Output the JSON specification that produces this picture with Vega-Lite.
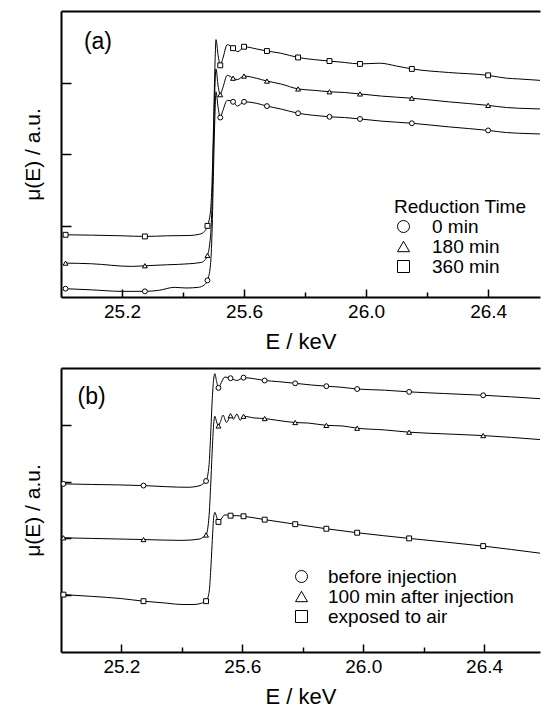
{
  "$schema": "https://vega.github.io/schema/vega-lite/v6.json",
  "padding": {"top": 11, "left": 22, "right": 0, "bottom": 0},
  "spacing": 16,
  "resolve": {"scale": {"shape": "independent"}, "legend": {"shape": "independent"}},
  "config": {
    "view": {"stroke": null},
    "font": "Liberation Sans",
    "axis": {"domainColor": "black", "domainWidth": 2, "tickColor": "black", "tickWidth": 1.5, "labelColor": "black", "titleColor": "black", "titleFontWeight": "normal", "grid": false, "labelFont": "Liberation Sans", "titleFont": "Liberation Sans"},
    "legend": {"labelFont": "Liberation Sans", "titleFont": "Liberation Sans", "labelColor": "black", "titleColor": "black", "labelLimit": 400}
  },
  "datasets": {
    "a_curve": [
      {"E": 25.015, "mu": 0.870, "series": "360 min"}, {"E": 25.10, "mu": 0.865, "series": "360 min"}, {"E": 25.20, "mu": 0.856, "series": "360 min"}, {"E": 25.275, "mu": 0.847, "series": "360 min"}, {"E": 25.35, "mu": 0.856, "series": "360 min"}, {"E": 25.42, "mu": 0.860, "series": "360 min"}, {"E": 25.455, "mu": 0.879, "series": "360 min"}, {"E": 25.47, "mu": 0.916, "series": "360 min"}, {"E": 25.48, "mu": 0.995, "series": "360 min"}, {"E": 25.49, "mu": 1.2, "series": "360 min"}, {"E": 25.495, "mu": 1.6, "series": "360 min"}, {"E": 25.50, "mu": 2.4, "series": "360 min"}, {"E": 25.505, "mu": 3.3, "series": "360 min"}, {"E": 25.508, "mu": 3.60, "series": "360 min"}, {"E": 25.515, "mu": 3.38, "series": "360 min"}, {"E": 25.522, "mu": 3.24, "series": "360 min"}, {"E": 25.53, "mu": 3.33, "series": "360 min"}, {"E": 25.545, "mu": 3.53, "series": "360 min"}, {"E": 25.564, "mu": 3.48, "series": "360 min"}, {"E": 25.58, "mu": 3.43, "series": "360 min"}, {"E": 25.60, "mu": 3.50, "series": "360 min"}, {"E": 25.64, "mu": 3.47, "series": "360 min"}, {"E": 25.675, "mu": 3.44, "series": "360 min"}, {"E": 25.72, "mu": 3.41, "series": "360 min"}, {"E": 25.777, "mu": 3.35, "series": "360 min"}, {"E": 25.83, "mu": 3.32, "series": "360 min"}, {"E": 25.88, "mu": 3.30, "series": "360 min"}, {"E": 25.93, "mu": 3.28, "series": "360 min"}, {"E": 25.98, "mu": 3.26, "series": "360 min"}, {"E": 26.045, "mu": 3.27, "series": "360 min"}, {"E": 26.10, "mu": 3.23, "series": "360 min"}, {"E": 26.15, "mu": 3.19, "series": "360 min"}, {"E": 26.27, "mu": 3.14, "series": "360 min"}, {"E": 26.40, "mu": 3.10, "series": "360 min"}, {"E": 26.46, "mu": 3.06, "series": "360 min"}, {"E": 26.50, "mu": 3.05, "series": "360 min"}, {"E": 26.57, "mu": 3.03, "series": "360 min"},
      {"E": 25.015, "mu": 0.474, "series": "180 min"}, {"E": 25.10, "mu": 0.465, "series": "180 min"}, {"E": 25.23, "mu": 0.428, "series": "180 min"}, {"E": 25.275, "mu": 0.437, "series": "180 min"}, {"E": 25.35, "mu": 0.451, "series": "180 min"}, {"E": 25.42, "mu": 0.465, "series": "180 min"}, {"E": 25.46, "mu": 0.484, "series": "180 min"}, {"E": 25.47, "mu": 0.51, "series": "180 min"}, {"E": 25.48, "mu": 0.581, "series": "180 min"}, {"E": 25.49, "mu": 0.85, "series": "180 min"}, {"E": 25.495, "mu": 1.3, "series": "180 min"}, {"E": 25.50, "mu": 2.2, "series": "180 min"}, {"E": 25.505, "mu": 3.0, "series": "180 min"}, {"E": 25.508, "mu": 3.19, "series": "180 min"}, {"E": 25.515, "mu": 2.95, "series": "180 min"}, {"E": 25.522, "mu": 2.83, "series": "180 min"}, {"E": 25.53, "mu": 2.92, "series": "180 min"}, {"E": 25.545, "mu": 3.10, "series": "180 min"}, {"E": 25.564, "mu": 3.06, "series": "180 min"}, {"E": 25.578, "mu": 3.04, "series": "180 min"}, {"E": 25.60, "mu": 3.09, "series": "180 min"}, {"E": 25.64, "mu": 3.06, "series": "180 min"}, {"E": 25.675, "mu": 3.02, "series": "180 min"}, {"E": 25.72, "mu": 2.98, "series": "180 min"}, {"E": 25.777, "mu": 2.91, "series": "180 min"}, {"E": 25.83, "mu": 2.89, "series": "180 min"}, {"E": 25.88, "mu": 2.87, "series": "180 min"}, {"E": 25.93, "mu": 2.86, "series": "180 min"}, {"E": 25.98, "mu": 2.84, "series": "180 min"}, {"E": 26.05, "mu": 2.81, "series": "180 min"}, {"E": 26.15, "mu": 2.78, "series": "180 min"}, {"E": 26.27, "mu": 2.73, "series": "180 min"}, {"E": 26.40, "mu": 2.68, "series": "180 min"}, {"E": 26.46, "mu": 2.65, "series": "180 min"}, {"E": 26.50, "mu": 2.64, "series": "180 min"}, {"E": 26.57, "mu": 2.63, "series": "180 min"},
      {"E": 25.015, "mu": 0.116, "series": "0 min"}, {"E": 25.10, "mu": 0.10, "series": "0 min"}, {"E": 25.20, "mu": 0.079, "series": "0 min"}, {"E": 25.275, "mu": 0.079, "series": "0 min"}, {"E": 25.32, "mu": 0.093, "series": "0 min"}, {"E": 25.372, "mu": 0.135, "series": "0 min"}, {"E": 25.41, "mu": 0.126, "series": "0 min"}, {"E": 25.45, "mu": 0.135, "series": "0 min"}, {"E": 25.47, "mu": 0.17, "series": "0 min"}, {"E": 25.48, "mu": 0.233, "series": "0 min"}, {"E": 25.49, "mu": 0.45, "series": "0 min"}, {"E": 25.495, "mu": 0.9, "series": "0 min"}, {"E": 25.50, "mu": 1.8, "series": "0 min"}, {"E": 25.505, "mu": 2.6, "series": "0 min"}, {"E": 25.508, "mu": 2.87, "series": "0 min"}, {"E": 25.515, "mu": 2.65, "series": "0 min"}, {"E": 25.522, "mu": 2.51, "series": "0 min"}, {"E": 25.53, "mu": 2.6, "series": "0 min"}, {"E": 25.545, "mu": 2.75, "series": "0 min"}, {"E": 25.564, "mu": 2.73, "series": "0 min"}, {"E": 25.578, "mu": 2.67, "series": "0 min"}, {"E": 25.60, "mu": 2.73, "series": "0 min"}, {"E": 25.64, "mu": 2.71, "series": "0 min"}, {"E": 25.675, "mu": 2.67, "series": "0 min"}, {"E": 25.72, "mu": 2.63, "series": "0 min"}, {"E": 25.777, "mu": 2.57, "series": "0 min"}, {"E": 25.83, "mu": 2.54, "series": "0 min"}, {"E": 25.88, "mu": 2.52, "series": "0 min"}, {"E": 25.93, "mu": 2.51, "series": "0 min"}, {"E": 25.98, "mu": 2.49, "series": "0 min"}, {"E": 26.05, "mu": 2.46, "series": "0 min"}, {"E": 26.15, "mu": 2.43, "series": "0 min"}, {"E": 26.27, "mu": 2.38, "series": "0 min"}, {"E": 26.40, "mu": 2.33, "series": "0 min"}, {"E": 26.46, "mu": 2.30, "series": "0 min"}, {"E": 26.50, "mu": 2.29, "series": "0 min"}, {"E": 26.57, "mu": 2.28, "series": "0 min"}
    ],
    "a_markers": [
      {"E": 25.015, "mu": 0.870, "series": "360 min"}, {"E": 25.275, "mu": 0.847, "series": "360 min"}, {"E": 25.48, "mu": 0.995, "series": "360 min"}, {"E": 25.522, "mu": 3.24, "series": "360 min"}, {"E": 25.564, "mu": 3.48, "series": "360 min"}, {"E": 25.60, "mu": 3.50, "series": "360 min"}, {"E": 25.675, "mu": 3.44, "series": "360 min"}, {"E": 25.777, "mu": 3.35, "series": "360 min"}, {"E": 25.88, "mu": 3.30, "series": "360 min"}, {"E": 25.98, "mu": 3.26, "series": "360 min"}, {"E": 26.15, "mu": 3.19, "series": "360 min"}, {"E": 26.40, "mu": 3.10, "series": "360 min"},
      {"E": 25.015, "mu": 0.474, "series": "180 min"}, {"E": 25.275, "mu": 0.437, "series": "180 min"}, {"E": 25.48, "mu": 0.581, "series": "180 min"}, {"E": 25.522, "mu": 2.83, "series": "180 min"}, {"E": 25.564, "mu": 3.06, "series": "180 min"}, {"E": 25.60, "mu": 3.09, "series": "180 min"}, {"E": 25.675, "mu": 3.02, "series": "180 min"}, {"E": 25.777, "mu": 2.91, "series": "180 min"}, {"E": 25.88, "mu": 2.87, "series": "180 min"}, {"E": 25.98, "mu": 2.84, "series": "180 min"}, {"E": 26.15, "mu": 2.78, "series": "180 min"}, {"E": 26.40, "mu": 2.68, "series": "180 min"},
      {"E": 25.015, "mu": 0.116, "series": "0 min"}, {"E": 25.275, "mu": 0.079, "series": "0 min"}, {"E": 25.48, "mu": 0.233, "series": "0 min"}, {"E": 25.522, "mu": 2.51, "series": "0 min"}, {"E": 25.564, "mu": 2.73, "series": "0 min"}, {"E": 25.60, "mu": 2.73, "series": "0 min"}, {"E": 25.675, "mu": 2.67, "series": "0 min"}, {"E": 25.777, "mu": 2.57, "series": "0 min"}, {"E": 25.88, "mu": 2.52, "series": "0 min"}, {"E": 25.98, "mu": 2.49, "series": "0 min"}, {"E": 26.15, "mu": 2.43, "series": "0 min"}, {"E": 26.40, "mu": 2.33, "series": "0 min"}
    ],
    "b_curve": [
      {"E": 25.008, "mu": 2.96, "series": "before injection"}, {"E": 25.10, "mu": 2.95, "series": "before injection"}, {"E": 25.273, "mu": 2.93, "series": "before injection"}, {"E": 25.35, "mu": 2.91, "series": "before injection"}, {"E": 25.42, "mu": 2.90, "series": "before injection"}, {"E": 25.46, "mu": 2.93, "series": "before injection"}, {"E": 25.47, "mu": 2.96, "series": "before injection"}, {"E": 25.48, "mu": 3.01, "series": "before injection"}, {"E": 25.49, "mu": 3.3, "series": "before injection"}, {"E": 25.495, "mu": 3.8, "series": "before injection"}, {"E": 25.50, "mu": 4.4, "series": "before injection"}, {"E": 25.505, "mu": 4.8, "series": "before injection"}, {"E": 25.509, "mu": 4.90, "series": "before injection"}, {"E": 25.515, "mu": 4.76, "series": "before injection"}, {"E": 25.521, "mu": 4.65, "series": "before injection"}, {"E": 25.53, "mu": 4.74, "series": "before injection"}, {"E": 25.542, "mu": 4.84, "series": "before injection"}, {"E": 25.561, "mu": 4.82, "series": "before injection"}, {"E": 25.582, "mu": 4.78, "series": "before injection"}, {"E": 25.604, "mu": 4.83, "series": "before injection"}, {"E": 25.64, "mu": 4.81, "series": "before injection"}, {"E": 25.674, "mu": 4.78, "series": "before injection"}, {"E": 25.72, "mu": 4.76, "series": "before injection"}, {"E": 25.775, "mu": 4.73, "series": "before injection"}, {"E": 25.83, "mu": 4.70, "series": "before injection"}, {"E": 25.878, "mu": 4.68, "series": "before injection"}, {"E": 25.93, "mu": 4.66, "series": "before injection"}, {"E": 25.98, "mu": 4.63, "series": "before injection"}, {"E": 26.07, "mu": 4.61, "series": "before injection"}, {"E": 26.152, "mu": 4.58, "series": "before injection"}, {"E": 26.27, "mu": 4.55, "series": "before injection"}, {"E": 26.397, "mu": 4.52, "series": "before injection"}, {"E": 26.585, "mu": 4.46, "series": "before injection"},
      {"E": 25.008, "mu": 2.01, "series": "100 min after injection"}, {"E": 25.10, "mu": 2.00, "series": "100 min after injection"}, {"E": 25.273, "mu": 1.98, "series": "100 min after injection"}, {"E": 25.40, "mu": 1.965, "series": "100 min after injection"}, {"E": 25.46, "mu": 1.99, "series": "100 min after injection"}, {"E": 25.47, "mu": 2.02, "series": "100 min after injection"}, {"E": 25.48, "mu": 2.06, "series": "100 min after injection"}, {"E": 25.49, "mu": 2.4, "series": "100 min after injection"}, {"E": 25.495, "mu": 2.9, "series": "100 min after injection"}, {"E": 25.50, "mu": 3.5, "series": "100 min after injection"}, {"E": 25.505, "mu": 4.0, "series": "100 min after injection"}, {"E": 25.509, "mu": 4.15, "series": "100 min after injection"}, {"E": 25.515, "mu": 4.05, "series": "100 min after injection"}, {"E": 25.521, "mu": 3.98, "series": "100 min after injection"}, {"E": 25.528, "mu": 4.06, "series": "100 min after injection"}, {"E": 25.536, "mu": 4.17, "series": "100 min after injection"}, {"E": 25.548, "mu": 4.04, "series": "100 min after injection"}, {"E": 25.561, "mu": 4.16, "series": "100 min after injection"}, {"E": 25.571, "mu": 4.10, "series": "100 min after injection"}, {"E": 25.582, "mu": 4.19, "series": "100 min after injection"}, {"E": 25.593, "mu": 4.08, "series": "100 min after injection"}, {"E": 25.604, "mu": 4.15, "series": "100 min after injection"}, {"E": 25.64, "mu": 4.12, "series": "100 min after injection"}, {"E": 25.674, "mu": 4.11, "series": "100 min after injection"}, {"E": 25.714, "mu": 4.08, "series": "100 min after injection"}, {"E": 25.775, "mu": 4.04, "series": "100 min after injection"}, {"E": 25.82, "mu": 4.03, "series": "100 min after injection"}, {"E": 25.878, "mu": 3.99, "series": "100 min after injection"}, {"E": 25.93, "mu": 3.98, "series": "100 min after injection"}, {"E": 25.98, "mu": 3.94, "series": "100 min after injection"}, {"E": 26.07, "mu": 3.91, "series": "100 min after injection"}, {"E": 26.152, "mu": 3.87, "series": "100 min after injection"}, {"E": 26.27, "mu": 3.84, "series": "100 min after injection"}, {"E": 26.397, "mu": 3.81, "series": "100 min after injection"}, {"E": 26.585, "mu": 3.74, "series": "100 min after injection"},
      {"E": 25.008, "mu": 1.01, "series": "exposed to air"}, {"E": 25.10, "mu": 0.98, "series": "exposed to air"}, {"E": 25.20, "mu": 0.94, "series": "exposed to air"}, {"E": 25.273, "mu": 0.895, "series": "exposed to air"}, {"E": 25.35, "mu": 0.86, "series": "exposed to air"}, {"E": 25.40, "mu": 0.836, "series": "exposed to air"}, {"E": 25.44, "mu": 0.836, "series": "exposed to air"}, {"E": 25.465, "mu": 0.86, "series": "exposed to air"}, {"E": 25.48, "mu": 0.895, "series": "exposed to air"}, {"E": 25.49, "mu": 1.05, "series": "exposed to air"}, {"E": 25.495, "mu": 1.4, "series": "exposed to air"}, {"E": 25.50, "mu": 1.9, "series": "exposed to air"}, {"E": 25.505, "mu": 2.35, "series": "exposed to air"}, {"E": 25.509, "mu": 2.46, "series": "exposed to air"}, {"E": 25.515, "mu": 2.38, "series": "exposed to air"}, {"E": 25.521, "mu": 2.29, "series": "exposed to air"}, {"E": 25.53, "mu": 2.34, "series": "exposed to air"}, {"E": 25.542, "mu": 2.415, "series": "exposed to air"}, {"E": 25.561, "mu": 2.40, "series": "exposed to air"}, {"E": 25.58, "mu": 2.40, "series": "exposed to air"}, {"E": 25.604, "mu": 2.39, "series": "exposed to air"}, {"E": 25.674, "mu": 2.33, "series": "exposed to air"}, {"E": 25.775, "mu": 2.25, "series": "exposed to air"}, {"E": 25.878, "mu": 2.17, "series": "exposed to air"}, {"E": 25.98, "mu": 2.10, "series": "exposed to air"}, {"E": 26.152, "mu": 2.00, "series": "exposed to air"}, {"E": 26.397, "mu": 1.865, "series": "exposed to air"}, {"E": 26.585, "mu": 1.74, "series": "exposed to air"}
    ],
    "b_markers": [
      {"E": 25.008, "mu": 2.96, "series": "before injection"}, {"E": 25.273, "mu": 2.93, "series": "before injection"}, {"E": 25.48, "mu": 3.01, "series": "before injection"}, {"E": 25.521, "mu": 4.65, "series": "before injection"}, {"E": 25.561, "mu": 4.82, "series": "before injection"}, {"E": 25.604, "mu": 4.83, "series": "before injection"}, {"E": 25.674, "mu": 4.78, "series": "before injection"}, {"E": 25.775, "mu": 4.73, "series": "before injection"}, {"E": 25.878, "mu": 4.68, "series": "before injection"}, {"E": 25.98, "mu": 4.63, "series": "before injection"}, {"E": 26.152, "mu": 4.58, "series": "before injection"}, {"E": 26.397, "mu": 4.52, "series": "before injection"},
      {"E": 25.008, "mu": 2.01, "series": "100 min after injection"}, {"E": 25.273, "mu": 1.98, "series": "100 min after injection"}, {"E": 25.48, "mu": 2.06, "series": "100 min after injection"}, {"E": 25.521, "mu": 3.98, "series": "100 min after injection"}, {"E": 25.561, "mu": 4.16, "series": "100 min after injection"}, {"E": 25.604, "mu": 4.15, "series": "100 min after injection"}, {"E": 25.674, "mu": 4.11, "series": "100 min after injection"}, {"E": 25.775, "mu": 4.04, "series": "100 min after injection"}, {"E": 25.878, "mu": 3.99, "series": "100 min after injection"}, {"E": 25.98, "mu": 3.94, "series": "100 min after injection"}, {"E": 26.152, "mu": 3.87, "series": "100 min after injection"}, {"E": 26.397, "mu": 3.81, "series": "100 min after injection"},
      {"E": 25.008, "mu": 1.01, "series": "exposed to air"}, {"E": 25.273, "mu": 0.895, "series": "exposed to air"}, {"E": 25.48, "mu": 0.895, "series": "exposed to air"}, {"E": 25.521, "mu": 2.29, "series": "exposed to air"}, {"E": 25.561, "mu": 2.40, "series": "exposed to air"}, {"E": 25.604, "mu": 2.39, "series": "exposed to air"}, {"E": 25.674, "mu": 2.33, "series": "exposed to air"}, {"E": 25.775, "mu": 2.25, "series": "exposed to air"}, {"E": 25.878, "mu": 2.17, "series": "exposed to air"}, {"E": 25.98, "mu": 2.10, "series": "exposed to air"}, {"E": 26.152, "mu": 2.00, "series": "exposed to air"}, {"E": 26.397, "mu": 1.865, "series": "exposed to air"}
    ],
    "a_label": [{"E": 25.075, "mu": 3.57, "label": "(a)"}],
    "b_label": [{"E": 25.055, "mu": 4.49, "label": "(b)"}]
  },
  "vconcat": [
    {
      "width": 479,
      "height": 286,
      "resolve": {"axis": {"x": "independent"}},
      "layer": [
        {
          "data": {"name": "a_curve"},
          "mark": {"type": "line", "interpolate": "monotone", "color": "black", "strokeWidth": 1},
          "encoding": {
            "x": {"field": "E", "type": "quantitative", "scale": {"domain": [25.0, 26.57], "nice": false, "zero": false},
              "axis": {"orient": "bottom", "values": [25.2, 25.4, 25.6, 25.8, 26.0, 26.2, 26.4], "tickSize": {"condition": {"test": "abs(datum.value*10 - round(datum.value*10/4)*4) < 0.01", "value": -8}, "value": -5}, "labelExpr": "abs(datum.value*10 - round(datum.value*10/4)*4) < 0.01 ? format(datum.value, '.1f') : ''", "labelFontSize": 19, "labelPadding": 13, "labelFlush": false, "labelOverlap": false, "title": "E / keV", "titleFontSize": 22, "titlePadding": 7}},
            "y": {"field": "mu", "type": "quantitative", "scale": {"domain": [0, 4], "nice": false, "zero": false},
              "axis": {"orient": "left", "values": [1, 2, 3], "labels": false, "tickSize": -10, "title": "μ(E) / a.u.", "titleFontSize": 21, "titlePadding": 17}},
            "detail": {"field": "series", "type": "nominal"}
          }
        },
        {
          "data": {"name": "a_markers"},
          "mark": {"type": "point", "filled": true, "fill": "white", "stroke": "black", "strokeWidth": 1, "size": 24, "opacity": 1},
          "encoding": {
            "x": {"field": "E", "type": "quantitative", "axis": {"orient": "top", "labels": false, "ticks": false, "title": null, "domain": true}},
            "y": {"field": "mu", "type": "quantitative",
              "axis": {"orient": "left", "values": [1, 2, 3], "labels": false, "tickSize": -10, "title": "μ(E) / a.u.", "titleFontSize": 21, "titlePadding": 17}},
            "shape": {"field": "series", "type": "nominal",
              "scale": {"domain": ["0 min", "180 min", "360 min"], "range": ["circle", "triangle-up", "square"]},
              "legend": {"title": "Reduction Time", "orient": "none", "legendX": 333, "legendY": 187, "padding": 0,
                "titleFontSize": 19, "titleFontWeight": "normal", "titlePadding": 0, "labelFontSize": 19, "labelOffset": 19,
                "symbolSize": 144, "rowPadding": -2, "symbolStrokeWidth": 1}}
          }
        },
        {
          "data": {"name": "a_label"},
          "mark": {"type": "text", "align": "left", "baseline": "middle", "fontSize": 23, "font": "Liberation Sans", "color": "black"},
          "encoding": {
            "x": {"field": "E", "type": "quantitative", "axis": null},
            "y": {"field": "mu", "type": "quantitative",
              "axis": {"orient": "left", "values": [1, 2, 3], "labels": false, "tickSize": -10, "title": "μ(E) / a.u.", "titleFontSize": 21, "titlePadding": 17}},
            "text": {"field": "label", "type": "nominal"}
          }
        }
      ]
    },
    {
      "width": 479,
      "height": 284,
      "resolve": {"axis": {"x": "independent"}},
      "layer": [
        {
          "data": {"name": "b_curve"},
          "mark": {"type": "line", "interpolate": "monotone", "color": "black", "strokeWidth": 1},
          "encoding": {
            "x": {"field": "E", "type": "quantitative", "scale": {"domain": [25.0, 26.585], "nice": false, "zero": false},
              "axis": {"orient": "bottom", "values": [25.2, 25.4, 25.6, 25.8, 26.0, 26.2, 26.4], "tickSize": {"condition": {"test": "abs(datum.value*10 - round(datum.value*10/4)*4) < 0.01", "value": -8}, "value": -5}, "labelExpr": "abs(datum.value*10 - round(datum.value*10/4)*4) < 0.01 ? format(datum.value, '.1f') : ''", "labelFontSize": 19, "labelPadding": 13, "labelFlush": false, "labelOverlap": false, "title": "E / keV", "titleFontSize": 22, "titlePadding": 7}},
            "y": {"field": "mu", "type": "quantitative", "scale": {"domain": [0, 5], "nice": false, "zero": false},
              "axis": {"orient": "left", "values": [1, 2, 3, 4], "labels": false, "tickSize": -10, "title": "μ(E) / a.u.", "titleFontSize": 21, "titlePadding": 17}},
            "detail": {"field": "series", "type": "nominal"}
          }
        },
        {
          "data": {"name": "b_markers"},
          "mark": {"type": "point", "filled": true, "fill": "white", "stroke": "black", "strokeWidth": 1, "size": 24, "opacity": 1},
          "encoding": {
            "x": {"field": "E", "type": "quantitative", "axis": {"orient": "top", "labels": false, "ticks": false, "title": null, "domain": true}},
            "y": {"field": "mu", "type": "quantitative",
              "axis": {"orient": "left", "values": [1, 2, 3, 4], "labels": false, "tickSize": -10, "title": "μ(E) / a.u.", "titleFontSize": 21, "titlePadding": 17}},
            "shape": {"field": "series", "type": "nominal",
              "scale": {"domain": ["before injection", "100 min after injection", "exposed to air"], "range": ["circle", "triangle-up", "square"]},
              "legend": {"title": null, "orient": "none", "legendX": 231, "legendY": 199, "padding": 0,
                "labelFontSize": 19, "labelOffset": 17,
                "symbolSize": 144, "rowPadding": -2, "symbolStrokeWidth": 1}}
          }
        },
        {
          "data": {"name": "b_label"},
          "mark": {"type": "text", "align": "left", "baseline": "middle", "fontSize": 23, "font": "Liberation Sans", "color": "black"},
          "encoding": {
            "x": {"field": "E", "type": "quantitative", "axis": null},
            "y": {"field": "mu", "type": "quantitative",
              "axis": {"orient": "left", "values": [1, 2, 3, 4], "labels": false, "tickSize": -10, "title": "μ(E) / a.u.", "titleFontSize": 21, "titlePadding": 17}},
            "text": {"field": "label", "type": "nominal"}
          }
        }
      ]
    }
  ]
}
